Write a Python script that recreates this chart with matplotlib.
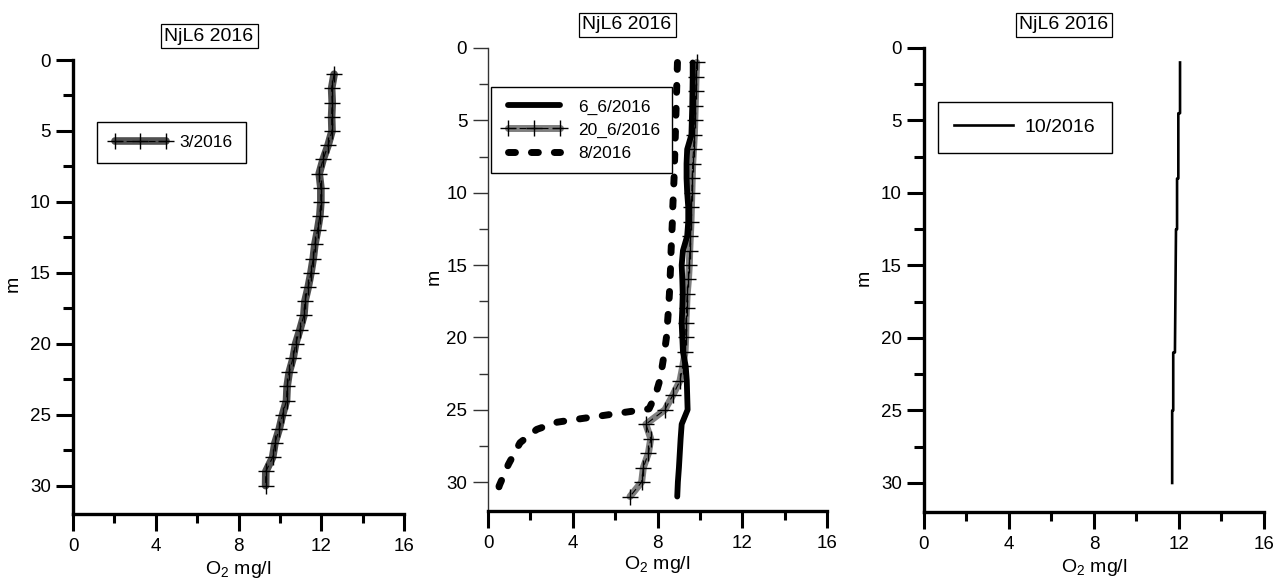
import matplotlib
matplotlib.use("Agg")
import matplotlib.pyplot as plt
from matplotlib.ticker import MultipleLocator

plt.rcParams['font.family'] = ['Liberation Sans', 'DejaVu Sans']
plt.rcParams['mathtext.fontset'] = 'custom'
plt.rcParams['mathtext.rm'] = 'Liberation Sans'
plt.rcParams['mathtext.it'] = 'Liberation Sans'

# ---------------- data ----------------
title = "NjL6 2016"
xlabel = "O$_2$ mg/l"
ylabel = "m"
xticks = [0, 4, 8, 12, 16]
yticks = [0, 5, 10, 15, 20, 25, 30]

# Panel 1: 3/2016
depth_mar = list(range(1, 31))
o2_mar = [12.62, 12.50, 12.53, 12.50, 12.52, 12.33, 12.09, 11.90, 11.98, 11.98,
          11.93, 11.82, 11.69, 11.61, 11.50, 11.37, 11.21, 11.16, 10.97, 10.76,
          10.64, 10.45, 10.35, 10.32, 10.13, 9.97, 9.76, 9.65, 9.32, 9.31]

# Panel 2: 6_6/2016
depth_jun6 = list(range(1, 32))
o2_jun6 = [9.66, 9.66, 9.65, 9.64, 9.62, 9.60, 9.40, 9.37, 9.37, 9.40,
           9.45, 9.45, 9.40, 9.20, 9.14, 9.17, 9.19, 9.17, 9.14, 9.17,
           9.20, 9.33, 9.38, 9.40, 9.42, 9.14, 9.09, 9.05, 9.01, 8.96, 8.93]

# Panel 2: 20_6/2016
depth_jun20 = list(range(1, 32))
o2_jun20 = [9.85, 9.82, 9.80, 9.78, 9.76, 9.74, 9.70, 9.66, 9.64, 9.62,
            9.60, 9.58, 9.55, 9.52, 9.50, 9.46, 9.40, 9.37, 9.34, 9.33,
            9.30, 9.19, 9.06, 8.72, 8.35, 7.45, 7.68, 7.57, 7.33, 7.25, 6.70]

# Panel 2: 8/2016
depth_aug = [1, 2, 3, 4, 5, 6, 7, 8, 9, 10, 11, 12, 13, 14, 15, 16, 17, 18, 19, 20,
             21, 22, 23, 24, 24.94, 25.17, 25.40, 25.63, 25.86, 26.36, 27.28,
             28.78, 30.28, 30.7]
o2_aug = [8.94, 8.92, 8.90, 8.88, 8.86, 8.84, 8.82, 8.80, 8.78, 8.75, 8.72, 8.70,
          8.67, 8.64, 8.62, 8.59, 8.56, 8.52, 8.47, 8.42, 8.33, 8.22, 8.10, 7.90,
          7.60, 6.50, 5.44, 4.34, 3.27, 2.30, 1.51, 0.96, 0.52, 0.50]

# Panel 3: 10/2016
depth_oct = [1, 4.5, 4.5, 9, 9, 12.5, 12.5, 21, 21, 25, 25, 30]
o2_oct = [12.05, 12.05, 11.97, 11.97, 11.91, 11.91, 11.86, 11.81, 11.73, 11.73, 11.68, 11.68]

# ---------------- figure ----------------
fig = plt.figure(figsize=(12.81, 5.81), dpi=100)

ax1 = fig.add_axes([0.0570, 0.1153, 0.2584, 0.7814])
ax2 = fig.add_axes([0.3810, 0.1205, 0.2646, 0.7969])
ax3 = fig.add_axes([0.7213, 0.1188, 0.2654, 0.7986])

TICK_FS = 13.5


def style(ax, left_thin=False):
    ax.set_xlim(0, 16)
    ax.set_ylim(32, 0)
    ax.set_xticks(xticks)
    ax.set_yticks(yticks)
    ax.xaxis.set_minor_locator(MultipleLocator(2))
    ax.yaxis.set_minor_locator(MultipleLocator(2.5))
    ax.spines['top'].set_visible(False)
    ax.spines['right'].set_visible(False)
    ax.spines['bottom'].set_linewidth(2.4)
    ax.tick_params(axis='x', which='major', length=12, width=2.2, labelsize=TICK_FS, pad=5)
    ax.tick_params(axis='x', which='minor', length=6.5, width=2.2)
    if left_thin:
        ax.spines['left'].set_linewidth(1.0)
        ax.spines['left'].set_color('#333333')
        ax.tick_params(axis='y', which='major', length=11, width=1.0, color='#333333',
                       labelsize=TICK_FS, pad=4)
        ax.tick_params(axis='y', which='minor', length=6.5, width=1.0, color='#333333')
    else:
        ax.spines['left'].set_linewidth(2.4)
        ax.tick_params(axis='y', which='major', length=12, width=2.2, labelsize=TICK_FS, pad=4)
        ax.tick_params(axis='y', which='minor', length=7, width=2.2)


for ax in (ax1, ax2, ax3):
    style(ax, left_thin=(ax is ax2))

# Panel 1
g1, = ax1.plot(o2_mar, depth_mar, color='#505050', lw=5.5, solid_capstyle='round', clip_on=False)
t1, = ax1.plot(o2_mar, depth_mar, color='black', lw=0.8, ls=(0, (6, 4)), marker='+',
               ms=11, mew=1.0, mec='black', clip_on=False)
leg1 = ax1.legend([(g1, t1)], ['3/2016'], loc='upper left', bbox_to_anchor=(0.0757, 0.790),
                  bbox_transform=fig.transFigure, borderaxespad=0, fancybox=False,
                  edgecolor='black', framealpha=1, fontsize=12.5, handlelength=3.5,
                  numpoints=3, borderpad=0.75, handletextpad=0.5)
leg1.get_frame().set_linewidth(1.0)

# Panel 2
h_jun6, = ax2.plot(o2_jun6, depth_jun6, color='black', lw=4.2, solid_capstyle='round',
                   solid_joinstyle='round', clip_on=False, zorder=3)
g2, = ax2.plot(o2_jun20, depth_jun20, color='#7f7f7f', lw=5.0, solid_capstyle='round',
               clip_on=False, zorder=2)
t2, = ax2.plot(o2_jun20, depth_jun20, color='black', lw=0.8, ls=(0, (6, 4)), marker='+',
               ms=11, mew=1.0, mec='black', clip_on=False, zorder=4)
h_aug, = ax2.plot(o2_aug, depth_aug, color='black', lw=5.0, ls=(0, (1.0, 2.3)),
                  dash_capstyle='round', clip_on=False, zorder=3)
leg2 = ax2.legend([h_jun6, (g2, t2), h_aug], ['6_6/2016', '20_6/2016', '8/2016'],
                  loc='upper left', bbox_to_anchor=(0.3833, 0.850),
                  bbox_transform=fig.transFigure, borderaxespad=0, fancybox=False,
                  edgecolor='black', framealpha=1, fontsize=12.5, handlelength=3.6,
                  numpoints=3, borderpad=0.7, handletextpad=0.7, labelspacing=0.45)
leg2.get_frame().set_linewidth(1.0)

# Panel 3
h_oct, = ax3.plot(o2_oct, depth_oct, color='black', lw=1.9, clip_on=False)
leg3 = ax3.legend([h_oct], ['10/2016'], loc='upper left', bbox_to_anchor=(0.7322, 0.8244),
                  bbox_transform=fig.transFigure, borderaxespad=0, fancybox=False,
                  edgecolor='black', framealpha=1, fontsize=14, handlelength=3.0,
                  borderpad=0.85, handletextpad=0.6)
leg3.get_frame().set_linewidth(1.0)

# Titles
for (tx, ty) in [(0.1632, 0.938), (0.4895, 0.957), (0.8306, 0.957)]:
    fig.text(tx, ty, title, ha='center', va='center', fontsize=14,
             bbox=dict(boxstyle='square,pad=0.2', fc='white', ec='black', lw=0.9))

# Axis labels
for ax in (ax1, ax2, ax3):
    ax.set_xlabel(xlabel, fontsize=14)
    ax.set_ylabel(ylabel, fontsize=14)
ax1.xaxis.set_label_coords(0.5, -0.098)
ax2.xaxis.set_label_coords(0.5, -0.092)
ax3.xaxis.set_label_coords(0.5, -0.098)
ax1.yaxis.set_label_coords(-0.155, 0.507)
ax2.yaxis.set_label_coords(-0.135, 0.505)
ax3.yaxis.set_label_coords(-0.152, 0.505)

fig.savefig("out.png", dpi=100)
